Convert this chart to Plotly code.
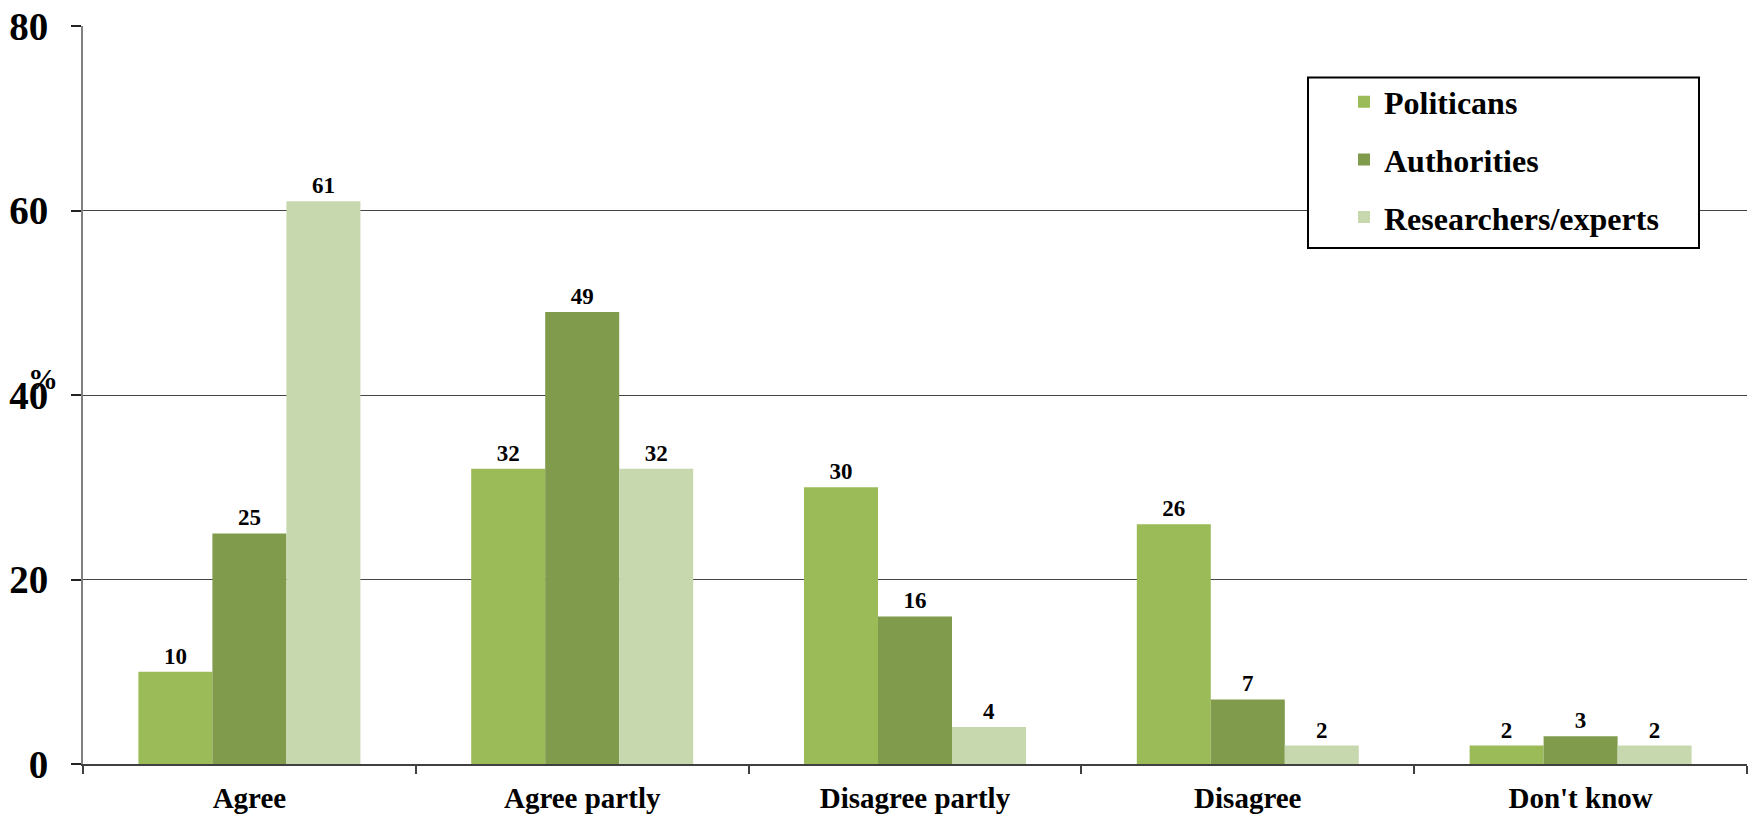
import plotly.graph_objects as go

# Survey responses (%) by respondent group
categories = ["Agree", "Agree partly", "Disagree partly", "Disagree", "Don't know"]
politicians = [10, 32, 30, 26, 2]
authorities = [25, 49, 16, 7, 3]
researchers = [61, 32, 4, 2, 2]

series_names = ["Politicans", "Authorities", "Researchers/experts"]
series_values = [politicians, authorities, researchers]
series_colors = ["#9BBB59", "#7F9B4B", "#C7D7AE"]

y_ticks = [0, 20, 40, 60, 80]

SERIF = "Liberation Serif, Times New Roman, serif"

fig = go.Figure()
for name, vals, col in zip(series_names, series_values, series_colors):
    fig.add_trace(go.Bar(
        x=categories,
        y=vals,
        name=name,
        legendgroup=name,
        marker=dict(color=col, line=dict(width=0)),
        text=vals,
        texttemplate="%{text}",
        textposition="outside",
        textfont=dict(family=SERIF, size=23, color="black", weight="bold"),
        cliponaxis=False,
    ))

fig.update_layout(
    width=1752,
    height=819,
    autosize=False,
    margin=dict(l=83, r=5, t=22, b=52),
    paper_bgcolor="white",
    plot_bgcolor="white",
    barmode="group",
    bargap=0.333,
    bargroupgap=0,
    showlegend=True,
    legend=dict(
        x=(1344 - 83) / 1664,
        y=1 - (71 - 22) / 745,
        xanchor="left",
        yanchor="top",
        bgcolor="rgba(0,0,0,0)",
        borderwidth=0,
        font=dict(family=SERIF, size=32, color="black", weight="bold"),
        tracegroupgap=13,
        traceorder="grouped",
    ),
    xaxis=dict(
        type="category",
        showline=True,
        linecolor="#404040",
        linewidth=1.5,
        ticks="outside",
        tickson="boundaries",
        ticklen=8,
        tickcolor="#404040",
        tickwidth=1.5,
        showgrid=False,
        tickfont=dict(family=SERIF, size=29, color="black", weight="bold"),
        ticklabelstandoff=7,
    ),
    yaxis=dict(
        range=[0, 80],
        tickvals=y_ticks,
        showline=True,
        linecolor="#808080",
        linewidth=2,
        ticks="outside",
        ticklen=10,
        tickcolor="#222222",
        tickwidth=1.5,
        showgrid=True,
        gridcolor="#444444",
        gridwidth=1.2,
        zeroline=False,
        tickfont=dict(family=SERIF, size=39, color="black", weight="bold"),
        ticklabelstandoff=15,
    ),
    shapes=[
        # frame around the legend
        dict(
            type="rect",
            xref="paper", yref="paper",
            x0=(1308 - 83) / 1664, x1=(1699 - 83) / 1664,
            y0=1 - (246 - 22) / 745, y1=1 - (74 - 22) / 745,
            line=dict(color="black", width=2),
            fillcolor="white",
            layer="above",
        )
    ],
    annotations=[
        dict(
            text="%",
            xref="paper", yref="y",
            x=-0.024, y=41.8,
            xanchor="center", yanchor="middle",
            showarrow=False,
            font=dict(family=SERIF, size=30, color="black", weight="bold"),
        )
    ],
)

fig.write_html("out.html")
